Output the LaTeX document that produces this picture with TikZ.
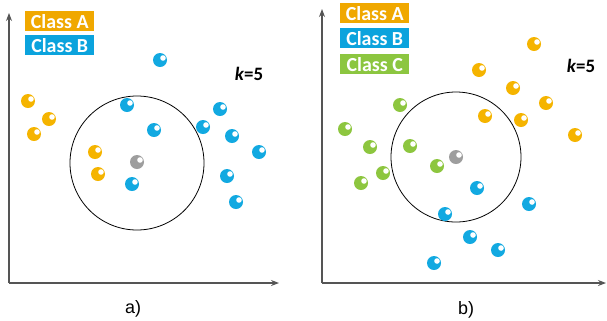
\documentclass[tikz,border=0pt]{standalone}
\usepackage{fontspec}
\setmainfont{Liberation Sans}
\newfontfamily\carlito{Carlito}
\usetikzlibrary{arrows.meta}
\definecolor{balla}{HTML}{F5B400}
\definecolor{ballb}{HTML}{12A9E1}
\definecolor{ballc}{HTML}{8DC63F}
\definecolor{ballq}{HTML}{9E9E9E}
\definecolor{boxa}{HTML}{F0A800}
\definecolor{boxb}{HTML}{0BA3DD}
\definecolor{boxc}{HTML}{8CC640}
\definecolor{axisgray}{HTML}{555555}
\begin{document}
\begin{tikzpicture}[x=1bp,y=-1bp,
  ball/.style={circle, minimum size=14bp, inner sep=0pt, fill=#1,
    path picture={\fill[white] ([xshift=3bp,yshift=2bp]path picture bounding box.center) circle (2.8bp);}},
  legend/.style={fill=#1, text=white, font=\carlito\bfseries\fontsize{20}{20}\selectfont,
    minimum width=69bp, minimum height=20bp, inner sep=0pt, anchor=north west},
  ktext/.style={font=\carlito\bfseries\fontsize{19}{19}\selectfont, inner sep=0pt},
  caption/.style={font=\fontsize{18}{18}\selectfont, inner sep=0pt},
  axis/.style={draw=axisgray, line width=1.1bp, -{Stealth[length=8bp,width=6bp]}},
  ring/.style={draw=black, circle, inner sep=0pt, line width=0.8bp}
]
\useasboundingbox (0,0) rectangle (607,320);

% ---------------- panel a ----------------
\coordinate (oa) at (9,283);
\coordinate (ya) at (9,13);
\coordinate (xa) at (279,283);
\draw[axis] (oa) -- (ya);
\draw[axis] (oa) -- (xa);

\node[legend=boxa] (laA) at (25,11) {Class A};
\node[legend=boxb] (laB) at (25,35) {Class B};
\node[ktext] (ka) at (249,74) {\textit{k}=5};

\node[ring, minimum size=134bp] (ca) at (137,163) {};

\node[ball=balla] (a1) at (28,101) {};
\node[ball=balla] (a2) at (49,119) {};
\node[ball=balla] (a3) at (34,134) {};
\node[ball=balla] (a4) at (95,152) {};
\node[ball=balla] (a5) at (98,174) {};
\node[ball=ballb] (b1) at (160,60) {};
\node[ball=ballb] (b2) at (127,105) {};
\node[ball=ballb] (b3) at (154,130) {};
\node[ball=ballb] (b4) at (220,109) {};
\node[ball=ballb] (b5) at (203,127) {};
\node[ball=ballb] (b6) at (232,136) {};
\node[ball=ballb] (b7) at (259,152) {};
\node[ball=ballb] (b8) at (132,184) {};
\node[ball=ballb] (b9) at (227,176) {};
\node[ball=ballb] (b10) at (236,202) {};
\node[ball=ballq] (qa) at (137,162) {};

\node[caption] (capa) at (133,309) {a)};

% ---------------- panel b ----------------
\coordinate (ob) at (322,283);
\coordinate (yb) at (322,9);
\coordinate (xb) at (606,283);
\draw[axis] (ob) -- (yb);
\draw[axis] (ob) -- (xb);

\node[legend=boxa] (lbA) at (340,3) {Class A};
\node[legend=boxb] (lbB) at (340,28) {Class B};
\node[legend=boxc] (lbC) at (340,54) {Class C};
\node[ktext] (kb) at (581,66) {\textit{k}=5};

\node[ring, minimum size=130bp] (cb) at (456,157) {};

\node[ball=balla] (c1) at (534,44) {};
\node[ball=balla] (c2) at (479,70) {};
\node[ball=balla] (c3) at (513,88) {};
\node[ball=balla] (c4) at (546,103) {};
\node[ball=balla] (c5) at (485,116) {};
\node[ball=balla] (c6) at (521,120) {};
\node[ball=balla] (c7) at (575,135) {};
\node[ball=ballc] (g1) at (400,105) {};
\node[ball=ballc] (g2) at (345,129) {};
\node[ball=ballc] (g3) at (370,147) {};
\node[ball=ballc] (g4) at (410,146) {};
\node[ball=ballc] (g5) at (437,166) {};
\node[ball=ballc] (g6) at (383,173) {};
\node[ball=ballc] (g7) at (361,183) {};
\node[ball=ballb] (d1) at (477,188) {};
\node[ball=ballb] (d2) at (529,204) {};
\node[ball=ballb] (d3) at (445,214) {};
\node[ball=ballb] (d4) at (470,237) {};
\node[ball=ballb] (d5) at (498,250) {};
\node[ball=ballb] (d6) at (434,263) {};
\node[ball=ballq] (qb) at (456,157) {};

\node[caption] (capb) at (466,310) {b)};
\end{tikzpicture}
\end{document}
